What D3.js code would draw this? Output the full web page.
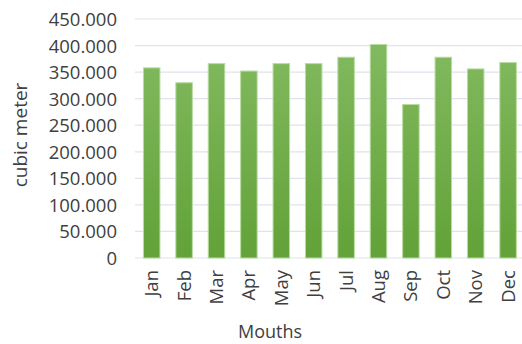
<!DOCTYPE html>
<html><head><meta charset="utf-8">
<script src="https://cdn.jsdelivr.net/npm/d3@7"></script>
<style>body{margin:0;background:#fff}svg{display:block}text{font-family:"Open Sans",sans-serif;fill:#404040}</style>
</head><body><svg id="c" width="522" height="344"></svg>
<script>
const months = ["Jan","Feb","Mar","Apr","May","Jun","Jul","Aug","Sep","Oct","Nov","Dec"];
const volumes = [358, 330, 366, 352, 366, 366, 378, 402, 289, 378, 356, 368];
const yTicks = [0, 50, 100, 150, 200, 250, 300, 350, 400, 450];
const yTickLabels = ["0","50.000","100.000","150.000","200.000","250.000","300.000","350.000","400.000","450.000"];

const svg = d3.select("#c");
const x = d3.scaleBand().domain(months).range([135.5, 524.3]).paddingInner(0.49).paddingOuter(0.245);
const y = d3.scaleLinear().domain([0, 450]).range([258, 19]);

const defs = svg.append("defs");
const g = defs.append("linearGradient").attr("id","bg").attr("gradientUnits","userSpaceOnUse")
  .attr("x1",0).attr("x2",0).attr("y1", y(450)).attr("y2", y(0));
g.append("stop").attr("offset","0").attr("stop-color","#86bc64");
g.append("stop").attr("offset","1").attr("stop-color","#62a238");

// gridlines
svg.append("g").selectAll("line").data(yTicks).join("line")
  .attr("x1", 135).attr("x2", 522).attr("y1", d => y(d)).attr("y2", d => y(d))
  .attr("stroke", "#dfe4ec").attr("stroke-width", 1.2);

// bars
svg.append("g").selectAll("rect").data(volumes).join("rect")
  .attr("x", (d,i) => x(months[i])).attr("width", x.bandwidth())
  .attr("y", d => y(d)).attr("height", d => y(0) - y(d))
  .attr("fill", "url(#bg)").attr("stroke", "#b9dca0").attr("stroke-width", 1);

// y axis labels
const ya = d3.axisLeft(y).tickValues(yTicks).tickFormat((d,i) => yTickLabels[i]).tickSize(0).tickPadding(0);
const yg = svg.append("g").attr("transform","translate(117,0)").call(ya);
yg.select(".domain").remove();
yg.selectAll("text").attr("font-size", 18.5).attr("font-family", '"Open Sans",sans-serif').attr("fill","#404040").attr("dy","0.35em");

// x axis labels
const xa = d3.axisBottom(x).tickSize(0).tickPadding(0);
const xg = svg.append("g").attr("transform","translate(0,270)").call(xa);
xg.select(".domain").remove();
xg.selectAll("text").attr("font-size", 18.5).attr("font-family", '"Open Sans",sans-serif').attr("fill","#404040")
  .attr("transform","rotate(-90)").attr("text-anchor","end").attr("x",0).attr("y",0).attr("dy","0.35em").attr("dx",0);

// titles
svg.append("text").attr("x", 270).attr("y", 338).attr("text-anchor","middle").attr("font-size", 18).text("Mouths");
svg.append("text").attr("transform","translate(27,135) rotate(-90)").attr("text-anchor","middle").attr("font-size", 19).text("cubic meter");
</script></body></html>
